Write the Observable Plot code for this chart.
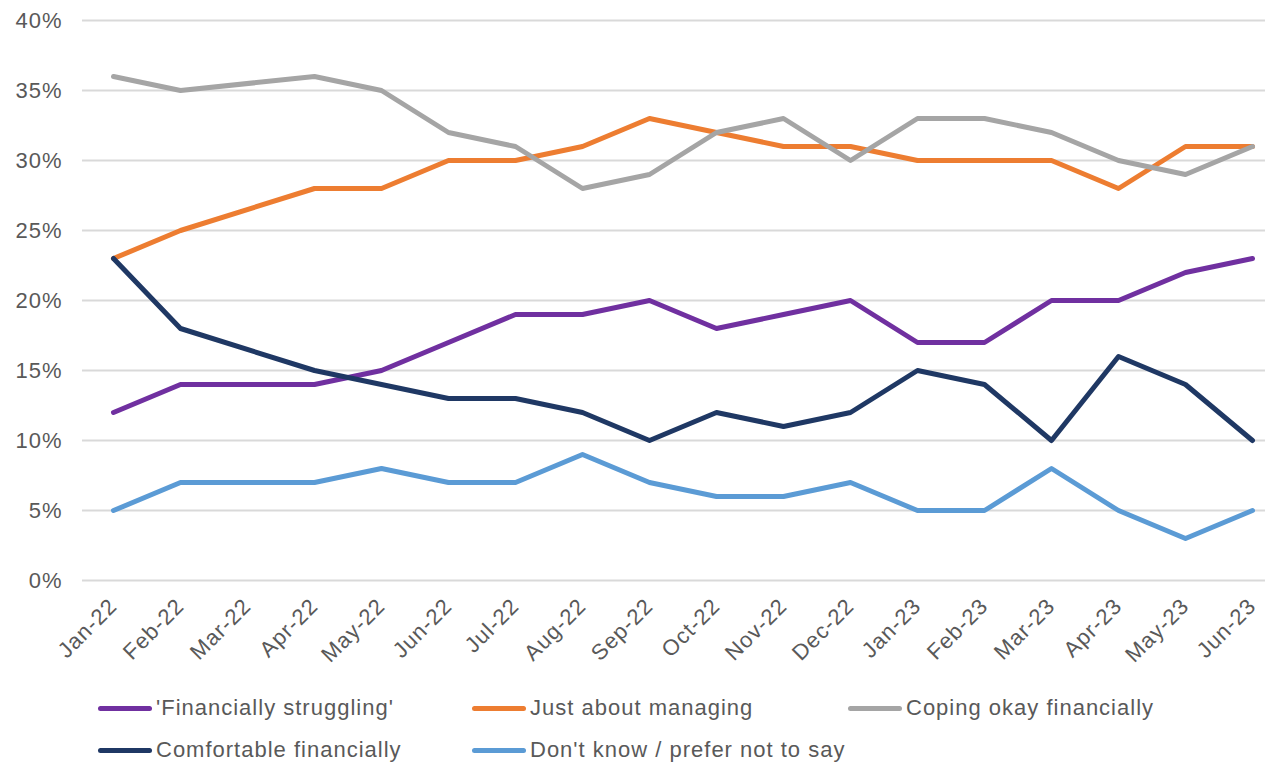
<!DOCTYPE html>
<html>
<head>
<meta charset="utf-8">
<script src="https://cdn.jsdelivr.net/npm/d3@7"></script>
<script src="https://cdn.jsdelivr.net/npm/@observablehq/plot@0.6"></script>
<style>
  html, body { margin: 0; padding: 0; background: #fff; }
  #wrap { position: relative; width: 1266px; height: 763px; font-family: "Liberation Sans", Arial, sans-serif; }
  #legend { position: absolute; left: 0; top: 0; width: 1266px; height: 763px; pointer-events: none; }
  .item { position: absolute; display: flex; align-items: center; font-size: 22px; letter-spacing: 1px; color: #595959; white-space: nowrap; }
  .sw { width: 54px; height: 5px; border-radius: 3px; margin-right: 4px; }
  svg text { letter-spacing: 1px; }
</style>
</head>
<body>
<div id="wrap"><div id="chart"></div><div id="legend"></div></div>
<script>
const months = ["Jan-22","Feb-22","Mar-22","Apr-22","May-22","Jun-22","Jul-22","Aug-22","Sep-22","Oct-22","Nov-22","Dec-22","Jan-23","Feb-23","Mar-23","Apr-23","May-23","Jun-23"];
const seriesNames = ["'Financially struggling'","Just about managing","Coping okay financially","Comfortable financially","Don't know / prefer not to say"];
const seriesColors = ["#7030A0","#ED7D31","#A5A5A5","#1F3864","#5B9BD5"];
// Mar-22: no survey value (line joins Feb-22 to Apr-22)
const struggling  = [12,14,null,14,15,17,19,19,20,18,19,20,17,17,20,20,22,23];
const managing    = [23,25,null,28,28,30,30,31,33,32,31,31,30,30,30,28,31,31];
const coping      = [36,35,null,36,35,32,31,28,29,32,33,30,33,33,32,30,29,31];
const comfortable = [23,18,null,15,14,13,13,12,10,12,11,12,15,14,10,16,14,10];
const dontKnow    = [5,7,null,7,8,7,7,9,7,6,6,7,5,5,8,5,3,5];
const yTicks = [0,5,10,15,20,25,30,35,40];

const allSeries = [struggling, managing, coping, comfortable, dontKnow];
const data = [];
allSeries.forEach((vals, si) => {
  vals.forEach((v, i) => {
    if (v != null) data.push({month: months[i], value: v, series: seriesNames[si]});
  });
});

const plot = Plot.plot({
  width: 1266,
  height: 690,
  marginLeft: 82,
  marginRight: 1,
  marginTop: 20,
  marginBottom: 110,
  style: {fontFamily: "'Liberation Sans', Arial, sans-serif", fontSize: "22px", color: "#595959", background: "#fff"},
  x: {type: "point", domain: months, range: [113, 1252], padding: 0},
  y: {domain: [0, 40], range: [580, 20]},
  color: {domain: seriesNames, range: seriesColors},
  marks: [
    Plot.ruleY(yTicks, {stroke: "#d9d9d9", strokeWidth: 2}),
    Plot.axisY(yTicks, {tickSize: 0, tickPadding: 20, tickFormat: d => d + "%", fontSize: 22, fill: "#595959", label: null}),
    Plot.axisX(months, {tickSize: 0, tickRotate: -45, tickPadding: 22, fontSize: 22, fill: "#595959", label: null}),
    Plot.line(data, {x: "month", y: "value", z: "series", stroke: "series", strokeWidth: 5, strokeLinejoin: "round", strokeLinecap: "round"})
  ]
});
document.getElementById("chart").appendChild(plot);

const legendPos = [[98,708],[472,708],[848,708],[98,750],[472,750]];
const legend = document.getElementById("legend");
seriesNames.forEach((name, i) => {
  const it = document.createElement("div");
  it.className = "item";
  it.style.left = legendPos[i][0] + "px";
  it.style.top = (legendPos[i][1] - 13) + "px";
  const sw = document.createElement("div");
  sw.className = "sw";
  sw.style.background = seriesColors[i];
  const t = document.createElement("span");
  t.textContent = name;
  it.appendChild(sw); it.appendChild(t);
  legend.appendChild(it);
});
</script>
</body>
</html>
